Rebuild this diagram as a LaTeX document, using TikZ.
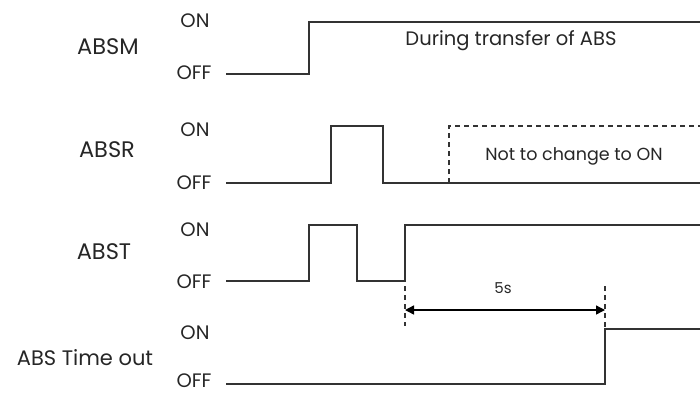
\documentclass[tikz,border=0pt]{standalone}
\usepackage{fontspec}
\setmainfont{Poppins}
\usetikzlibrary{arrows.meta}
\begin{document}
\begin{tikzpicture}[x=1pt,y=-1pt,
  sig/.style={draw=black!80,line width=1.6pt,line join=miter},
  dsig/.style={draw=black!80,line width=1.6pt,dash pattern=on 5pt off 4pt},
  guide/.style={draw=black!80,line width=1.6pt,dash pattern=on 5pt off 4pt},
  lbl/.style={inner sep=0pt,font=\fontsize{22.5}{24}\selectfont,text=black!85},
  lvl/.style={inner sep=0pt,font=\fontsize{19.5}{21}\selectfont,text=black!85},
  note/.style={inner sep=0pt,font=\fontsize{19.5}{21}\selectfont,text=black!85},
  dim/.style={draw=black,line width=1.4pt,{Triangle[length=9pt,width=9pt]}-{Triangle[length=9pt,width=9pt]}}]
\useasboundingbox (0,0) rectangle (700,394);
% signal names
\node[lbl] (nm) at (108,47) {ABSM};
\node[lbl] (nr) at (107,150) {ABSR};
\node[lbl] (nt) at (104,252) {ABST};
\node[lbl,font=\fontsize{21}{23}\selectfont] (no) at (85,358) {ABS Time out};
% levels
\node[lvl] (mon) at (195,21) {ON};
\node[lvl] (moff) at (194,73) {OFF};
\node[lvl] (ron) at (195,130) {ON};
\node[lvl] (roff) at (194,183) {OFF};
\node[lvl] (ton) at (195,230) {ON};
\node[lvl] (toff) at (194,282) {OFF};
\node[lvl] (oon) at (195,333) {ON};
\node[lvl] (ooff) at (194,381) {OFF};
% ABSM
\draw[sig] (226,74) -- (309,74) -- (309,22) -- (700,22);
\node[note] (tm) at (511,41) {During transfer of ABS};
% ABSR
\draw[sig] (226,183) -- (331,183) -- (331,126) -- (383,126) -- (383,183) -- (700,183);
\draw[dsig] (449,183) -- (449,126) -- (700,126);
\node[note,font=\fontsize{17.5}{19}\selectfont] (tr) at (574,156) {Not to change to~ON};
% ABST
\draw[sig] (226,281) -- (309,281) -- (309,225) -- (357,225) -- (357,281) -- (405,281) -- (405,225) -- (700,225);
% ABS Time out
\draw[sig] (226,384) -- (605,384) -- (605,329) -- (700,329);
% 5s dimension
\coordinate (a0) at (405,286);
\coordinate (a1) at (405,326);
\coordinate (b0) at (605,286);
\coordinate (b1) at (605,327);
\draw[guide] (a0) -- (a1);
\draw[guide] (b0) -- (b1);
\coordinate (pa) at (405,310);
\coordinate (pb) at (605,310);
\draw[dim] (pa) -- (pb);
\node[note,font=\fontsize{15}{17}\selectfont] (fs) at (503,288) {5s};
\end{tikzpicture}
\end{document}
